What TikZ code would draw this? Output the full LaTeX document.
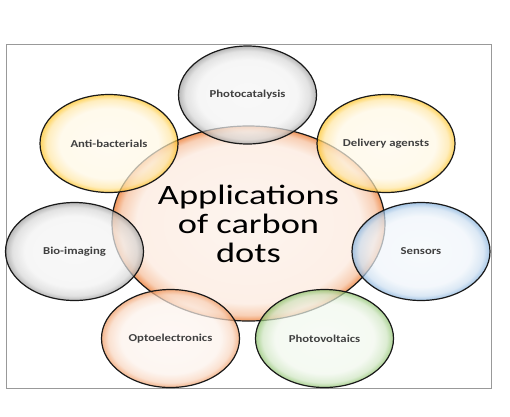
\documentclass[tikz,border=0pt]{standalone}
\usepackage{fontspec}
\setmainfont{Carlito}
\newfontfamily\widefont[FakeStretch=1.3]{Carlito}
\newfontfamily\labelfont[FakeStretch=1.2]{Carlito}
\usepackage{xcolor}
\usepackage{tikz}
\usetikzlibrary{shapes.geometric}

\definecolor{rimorange}{HTML}{F0965C}
\definecolor{rimgold}{HTML}{FFC21A}
\definecolor{rimgray}{HTML}{9A9A9A}
\definecolor{rimblue}{HTML}{7FAEDC}
\definecolor{rimgreen}{HTML}{86BF64}
\colorlet{rimcol}{rimgray}
\pgfdeclareradialshading[rimcol]{glass}{\pgfpoint{0bp}{0bp}}{%
  color(0bp)=(rimcol!8); color(18bp)=(rimcol!12); color(22.5bp)=(rimcol!40); color(25bp)=(rimcol); color(50bp)=(rimcol)}
\pgfdeclareradialshading[rimcol]{glasshub}{\pgfpoint{0bp}{0bp}}{%
  color(0bp)=(rimcol!10); color(20.5bp)=(rimcol!15); color(23.5bp)=(rimcol!45); color(25bp)=(rimcol); color(50bp)=(rimcol)}

\begin{document}
\begin{tikzpicture}[
        x=1pt, y=-1pt,
        every node/.style={ellipse,draw=black!90,line width=1.2pt,text=black!75},
        glass/.style={/utils/exec={\colorlet{rimcol}{#1}},shading=glass},
        hub/.style={/utils/exec={\colorlet{rimcol}{rimorange}},shading=glasshub,
          minimum width=273pt,minimum height=195pt,align=center,text=black,
          font=\widefont\fontsize{28}{29}\selectfont},
        app/.style={minimum width=138pt,minimum height=98pt,fill opacity=0.7,text opacity=1,
          font=\labelfont\bfseries\fontsize{10.6}{12}\selectfont}
        ]
        \useasboundingbox[fill=white] (0,0) rectangle (510,416);
        \draw[black!40,line width=0.8pt] (6,44) rectangle (491,388);
        % centre
        \node[hub] (cd) at (248.5,223.5) {Applications\\of carbon\\dots};
        % applications
        \node[app,glass=rimgray]   (photocat) at (247.5,95)    {Photocatalysis};
        \node[app,glass=rimgold]   (antibac)  at (109,143.5)   {Anti-bacterials};
        \node[app,glass=rimgold]   (delivery) at (386,143.5)   {Delivery agensts};
        \node[app,glass=rimgray]   (bioimg)   at (74.5,251.5)  {Bio-imaging};
        \node[app,glass=rimblue]   (sensors)  at (421,251.5)   {Sensors};
        \node[app,glass=rimorange] (opto)     at (170.5,338.5) {Optoelectronics};
        \node[app,glass=rimgreen]  (pv)       at (324.5,338.5) {Photovoltaics};
      \end{tikzpicture}
\end{document}
